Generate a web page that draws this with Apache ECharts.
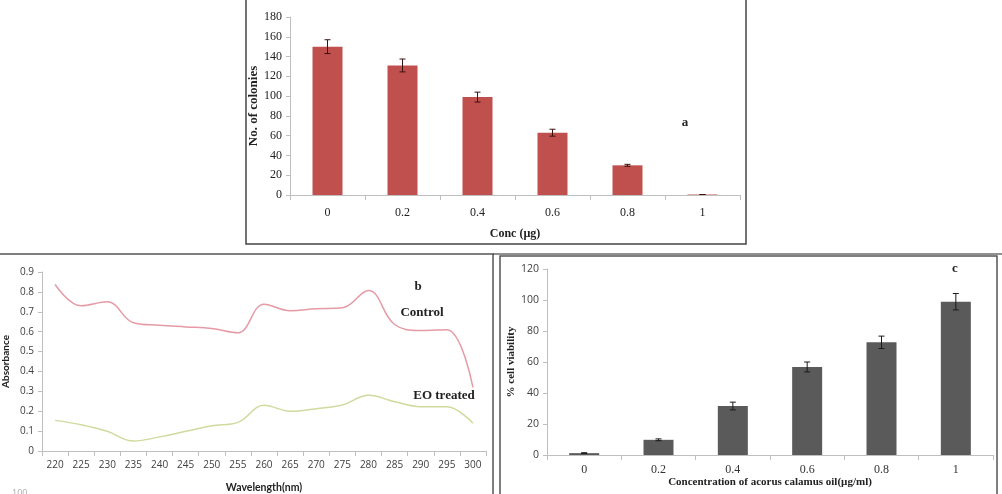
<!DOCTYPE html>
<html>
<head>
<meta charset="utf-8">
<script src="https://cdn.jsdelivr.net/npm/echarts@6/dist/echarts.min.js"></script>
<style>
  html, body { margin: 0; padding: 0; background: #fff; }
  #chart { width: 1002px; height: 494px; }
</style>
</head>
<body>
<div id="chart"></div>
<script>
// panel a: colony counts
const concLabels = ['0', '0.2', '0.4', '0.6', '0.8', '1'];
const colonies = [150, 131, 99, 63, 30, 0.5];
const coloniesErr = [7, 6.5, 5, 3.5, 1, 0];

// panel b: absorbance spectra
const wavelengths = ['220', '225', '230', '235', '240', '245', '250', '255', '260',
  '265', '270', '275', '280', '285', '290', '295', '300'];
const controlAbs = [0.837, 0.73, 0.75, 0.645, 0.632, 0.624, 0.616, 0.595, 0.738,
  0.705, 0.715, 0.72, 0.807, 0.636, 0.606, 0.61, 0.32];
const eoAbs = [0.154, 0.132, 0.099, 0.05, 0.071, 0.099, 0.127, 0.144, 0.23,
  0.2, 0.213, 0.231, 0.28, 0.248, 0.223, 0.222, 0.14];

// panel c: cell viability
const viability = [1.2, 9.8, 31.6, 56.8, 72.7, 98.9];
const viabilityErr = [0.3, 0.6, 2.5, 3.2, 4, 5.3];

const SERIF = '"Liberation Serif", "Times New Roman", serif';
const SANS = '"Open Sans", "Liberation Sans", sans-serif';
const NARROW = 'Lato, "Open Sans", sans-serif';
const AXIS_GREY = '#bfbfbf';

function errorBars(color) {
  return function (params, api) {
    const x = api.value(0), v = api.value(1), e = api.value(2);
    const hi = api.coord([x, v + e]);
    const lo = api.coord([x, v - e]);
    const w = 3;
    const st = { stroke: color, lineWidth: 1 };
    return {
      type: 'group',
      children: [
        { type: 'line', shape: { x1: hi[0], y1: hi[1], x2: lo[0], y2: lo[1] }, style: st },
        { type: 'line', shape: { x1: hi[0] - w, y1: hi[1], x2: hi[0] + w, y2: hi[1] }, style: st },
        { type: 'line', shape: { x1: lo[0] - w, y1: lo[1], x2: lo[0] + w, y2: lo[1] }, style: st }
      ]
    };
  };
}

function catAxis(gridIndex, labels, font, size, color, margin, name, nameFont, nameGap, nameSize) {
  return {
    type: 'category', gridIndex, data: labels, boundaryGap: true,
    axisLine: { lineStyle: { color: AXIS_GREY } },
    axisTick: { show: true, length: 5, lineStyle: { color: AXIS_GREY } },
    axisLabel: { fontFamily: font, fontSize: size, color, margin },
    name, nameLocation: 'middle', nameGap,
    nameTextStyle: { fontFamily: nameFont, fontSize: nameSize, fontWeight: 'bold', color: '#222' }
  };
}

function valAxis(gridIndex, min, max, interval, font, size, color, name, nameFont, nameGap, nameSize) {
  return {
    type: 'value', gridIndex, min, max, interval,
    splitLine: { show: false },
    axisLine: { show: true, lineStyle: { color: AXIS_GREY } },
    axisTick: { show: true, length: 4, lineStyle: { color: AXIS_GREY } },
    axisLabel: { fontFamily: font, fontSize: size, color, margin: 8 },
    name, nameLocation: 'middle', nameGap, nameRotate: 90,
    nameTextStyle: { fontFamily: nameFont, fontSize: nameSize, fontWeight: 'bold', color: '#222' }
  };
}

const chart = echarts.init(document.getElementById('chart'), null, { renderer: 'canvas' });

chart.setOption({
  animation: false,
  backgroundColor: '#fff',
  grid: [
    { left: 290, top: 17, width: 450, height: 178 },
    { left: 39, top: 272, width: 447, height: 181 },
    { left: 547, top: 269, width: 446, height: 186 }
  ],
  xAxis: [
    catAxis(0, concLabels, SERIF, 12, '#222', 12, 'Conc (µg)', SERIF, 33, 12),
    catAxis(1, wavelengths, SANS, 10, '#404040', 9, 'Wavelength(nm)', NARROW, 31, 10.5),
    catAxis(2, concLabels, SERIF, 12, '#333', 9, 'Concentration of acorus calamus oil(µg/ml)', SERIF, 22, 11)
  ],
  yAxis: [
    valAxis(0, 0, 180, 20, SERIF, 12, '#222', 'No. of colonies', SERIF, 29, 13),
    valAxis(1, 0, 0.9, 0.1, SANS, 10, '#404040', 'Absorbance', NARROW, 31, 10),
    valAxis(2, 0, 120, 20, SANS, 10.5, '#404040', '% cell viability', SERIF, 30, 11)
  ],
  series: [
    {
      type: 'bar', xAxisIndex: 0, yAxisIndex: 0, data: colonies,
      barWidth: 30, itemStyle: { color: '#c0504d' }
    },
    {
      type: 'custom', xAxisIndex: 0, yAxisIndex: 0, z: 5,
      renderItem: errorBars('#3a1212'),
      encode: { x: 0, y: 1 },
      data: colonies.map((v, i) => [i, v, coloniesErr[i]])
    },
    {
      type: 'line', xAxisIndex: 1, yAxisIndex: 1, data: controlAbs,
      smooth: 0.4, symbol: 'none', lineStyle: { color: '#e59aa6', width: 1.5 }
    },
    {
      type: 'line', xAxisIndex: 1, yAxisIndex: 1, data: eoAbs,
      smooth: 0.4, symbol: 'none', lineStyle: { color: '#cfdb9e', width: 1.5 }
    },
    {
      type: 'bar', xAxisIndex: 2, yAxisIndex: 2, data: viability,
      barWidth: 30, itemStyle: { color: '#5a5a5a' }
    },
    {
      type: 'custom', xAxisIndex: 2, yAxisIndex: 2, z: 5,
      renderItem: errorBars('#1a1a1a'),
      encode: { x: 0, y: 1 },
      data: viability.map((v, i) => [i, v, viabilityErr[i]])
    }
  ],
  graphic: [
    // panel frames
    { type: 'rect', shape: { x: 246, y: -2, width: 500, height: 246 },
      style: { fill: 'none', stroke: '#444', lineWidth: 1.5 } },
    { type: 'rect', shape: { x: -2, y: 254, width: 495, height: 250 },
      style: { fill: 'none', stroke: '#555', lineWidth: 1.5 } },
    { type: 'line', shape: { x1: 493, y1: 254, x2: 1002, y2: 254 },
      style: { stroke: '#222', lineWidth: 1 } },
    { type: 'rect', shape: { x: 500, y: 256, width: 497, height: 250 },
      style: { fill: 'none', stroke: '#555', lineWidth: 1.5 } },
    // panel letters and curve labels
    { type: 'text', x: 685, y: 123, style: { text: 'a', font: 'bold 13px ' + SERIF, fill: '#222', align: 'center', verticalAlign: 'middle' } },
    { type: 'text', x: 418, y: 287, style: { text: 'b', font: 'bold 13px ' + SERIF, fill: '#222', align: 'center', verticalAlign: 'middle' } },
    { type: 'text', x: 422, y: 313, style: { text: 'Control', font: 'bold 13px ' + SERIF, fill: '#222', align: 'center', verticalAlign: 'middle' } },
    { type: 'text', x: 444, y: 396, style: { text: 'EO treated', font: 'bold 13px ' + SERIF, fill: '#222', align: 'center', verticalAlign: 'middle' } },
    { type: 'text', x: 955, y: 269, style: { text: 'c', font: 'bold 13px ' + SERIF, fill: '#222', align: 'center', verticalAlign: 'middle' } },
    { type: 'text', x: 12, y: 489, style: { text: '100', font: '9px ' + SANS, fill: '#aaa' } }
  ]
});
</script>
</body>
</html>
